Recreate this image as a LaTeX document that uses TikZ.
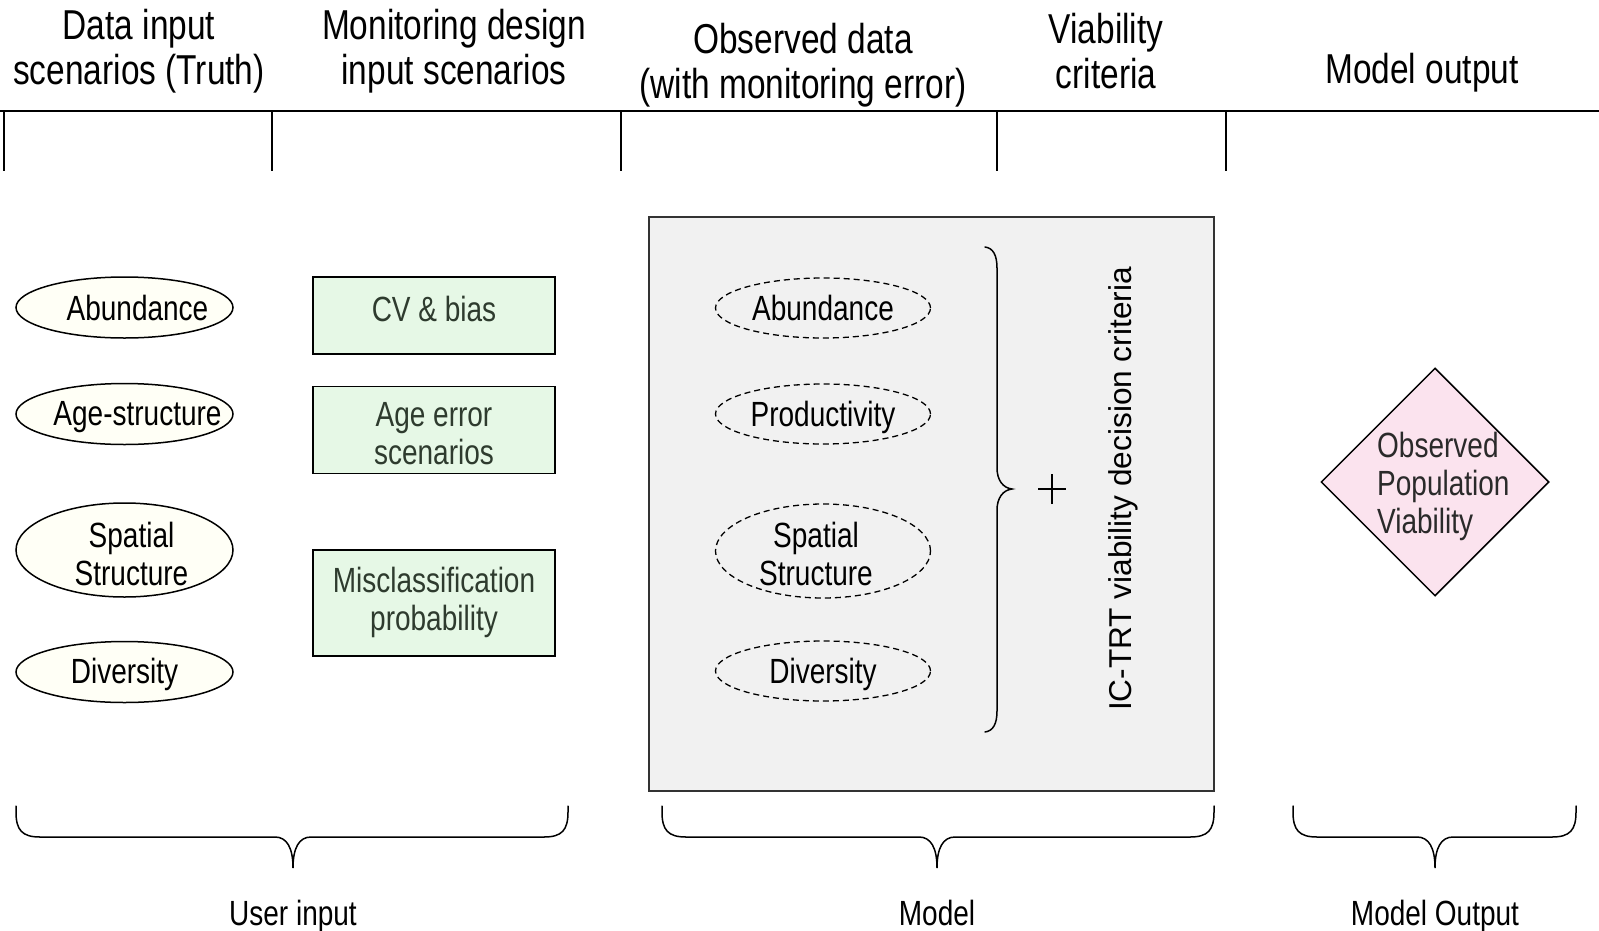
\documentclass[tikz,border=0pt]{standalone}
\usepackage{fontspec}
\setmainfont{Liberation Sans}[FakeStretch=0.8]
\newfontfamily\vfont{Liberation Sans}
\usetikzlibrary{shapes.geometric}
\definecolor{ivory}{HTML}{FFFFF6}
\definecolor{boxgreen}{HTML}{E6F8E6}
\definecolor{greentext}{HTML}{2E3B2E}
\definecolor{modelgray}{HTML}{F1F1F1}
\definecolor{modelborder}{HTML}{333333}
\definecolor{pinkfill}{HTML}{FBE3EE}
\definecolor{darktext}{HTML}{2A2A2A}
\newcommand{\mybrace}[3]{%
  \draw[bracestyle] (#1,806) -- (#1,812) .. controls (#1,830) and ({#1+6},837) .. ({#1+24},837)
    -- ({#2-18},837) .. controls ({#2-6},837) and (#2,848) .. (#2,868)
    .. controls (#2,848) and ({#2+6},837) .. ({#2+18},837)
    -- ({#3-24},837) .. controls ({#3-6},837) and (#3,830) .. (#3,812) -- (#3,806);}
\begin{document}
\begin{tikzpicture}[x=1pt,y=-1pt,
  body/.style={font=\fontsize{35}{38}\selectfont, align=center, inner sep=0pt},
  head/.style={font=\fontsize{41.8}{45}\selectfont, align=center, inner sep=0pt},
  truth/.style={ellipse, draw=black, line width=1.5pt, fill=ivory, minimum width=217pt, minimum height=61pt, inner sep=0pt},
  obs/.style={ellipse, draw=black, line width=1.3pt, dash pattern=on 6pt off 4pt, fill=modelgray, minimum width=215pt, minimum height=60pt, inner sep=0pt},
  mbox/.style={rectangle, draw=black, line width=1.5pt, fill=boxgreen, minimum width=242pt, inner sep=0pt},
  rulestyle/.style={line width=1.6pt},
  bracestyle/.style={line width=1.5pt, line cap=round},
]
\useasboundingbox (0,0) rectangle (1599,930);
\fill[white] (0,0) rectangle (1599,930);

% header
\node[head] (h1) at (139,51) {Data input\\scenarios (Truth)};
\node[head] (h2) at (454,51) {Monitoring design\\input scenarios};
\node[head] (h3) at (803,65) {Observed data\\(with monitoring error)};
\node[head] (h4) at (1106,51) {Viability\\criteria};
\node[head] (h5) at (1422,73) {Model output};
\coordinate (r0) at (0,111);
\coordinate (r1) at (1599,111);
\draw[rulestyle] (r0) -- (r1);
\foreach \x in {4,272,621,997,1226} \draw[rulestyle] (\x,111) -- (\x,171);

% truth ellipses
\node[truth, label={[body, xshift=13pt]center:Abundance}] (ta) at (124.5,307.5) {};
\node[truth, label={[body, xshift=13pt, yshift=-3pt]center:Age-structure}] (tb) at (124.5,414) {};
\node[truth, minimum height=94pt, label={[body, xshift=7pt, yshift=-4pt]center:Spatial\\Structure}] (tc) at (124.5,550) {};
\node[truth, label={[body, yshift=-2pt]center:Diversity}] (td) at (124.5,672) {};

% monitoring boxes
\node[mbox, minimum height=77pt, label={[body, text=greentext, yshift=7pt]center:CV \& bias}] (ma) at (434,315.5) {};
\node[mbox, minimum height=87pt, label={[body, text=greentext, yshift=-4pt]center:Age error\\scenarios}] (mb) at (434,430) {};
\node[mbox, minimum height=106pt, label={[body, text=greentext, yshift=1pt]center:Misclassification\\probability}] (mc) at (434,603) {};

% model box
\node[rectangle, draw=modelborder, line width=2pt, fill=modelgray, minimum width=565pt, minimum height=574pt, inner sep=0pt] (model) at (931.5,504) {};
\node[obs, label={[body]center:Abundance}] (oa) at (823,308) {};
\node[obs, label={[body, yshift=-3pt]center:Productivity}] (ob) at (823,414) {};
\node[obs, minimum height=94pt, label={[body, xshift=-7pt, yshift=-3pt]center:Spatial\\Structure}] (oc) at (823,551) {};
\node[obs, label={[body, yshift=-3pt]center:Diversity}] (od) at (823,671) {};

% brace inside model
\draw[bracestyle] (985,247) .. controls (993,248) and (997,255) .. (997,268) -- (997,468)
  .. controls (997,480) and (1003,488) .. (1012,489)
  .. controls (1003,490) and (997,498) .. (997,510) -- (997,711)
  .. controls (997,724) and (993,731) .. (985,732);
\coordinate (plus) at (1052,489);
\draw[line width=1.3pt] ([xshift=-14pt]plus) -- ([xshift=14pt]plus);
\draw[line width=1.3pt] ([yshift=-15pt]plus) -- ([yshift=15pt]plus);
\node[rotate=90, inner sep=0pt, font=\vfont\fontsize{31.6}{34}\selectfont] (crit) at (1123,489) {IC-TRT viability decision criteria};

% output diamond
\node[diamond, aspect=1, draw=black, line width=1.5pt, fill=pinkfill, minimum width=228pt, minimum height=228pt, inner sep=0pt] (out) at (1435,482) {};
\node[body, align=left, anchor=west, text=darktext] (outtext) at (1377,486) {Observed\\Population\\Viability};

% bottom braces
\mybrace{16}{293}{568}
\mybrace{662}{937}{1214}
\mybrace{1293}{1435}{1576}
\node[body] (l1) at (293,916) {User input};
\node[body] (l2) at (937,913) {Model};
\node[body] (l3) at (1435,916) {Model Output};
\end{tikzpicture}
\end{document}
